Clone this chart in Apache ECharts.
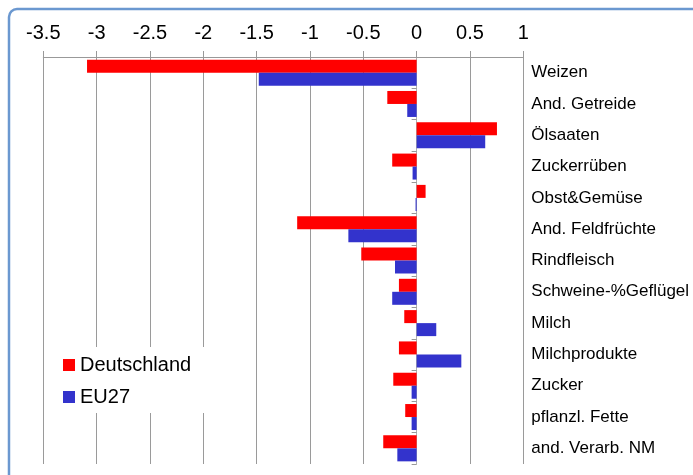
<!DOCTYPE html>
<html>
<head>
<meta charset="utf-8">
<script src="https://cdn.jsdelivr.net/npm/echarts@6/dist/echarts.min.js"></script>
<style>
html,body{margin:0;padding:0;background:#fff;}
#chart{width:693px;height:475px;}
</style>
</head>
<body>
<div id="chart"></div>
<script>
const categories = ["Weizen","And. Getreide","Ölsaaten","Zuckerrüben","Obst&Gemüse","And. Feldfrüchte","Rindfleisch","Schweine-%Geflügel","Milch","Milchprodukte","Zucker","pflanzl. Fette","and. Verarb. NM"];
const deutschland = [-3.09,-0.275,0.753,-0.229,0.084,-1.12,-0.519,-0.166,-0.116,-0.166,-0.219,-0.107,-0.313];
const eu27 = [-1.48,-0.088,0.643,-0.038,-0.01,-0.64,-0.203,-0.229,0.184,0.419,-0.047,-0.047,-0.181];
const xMin = -3.5, xMax = 1, xStep = 0.5;

const chart = echarts.init(document.getElementById('chart'));
const fontFamily = 'Liberation Sans, Arial, sans-serif';
chart.setOption({
  animation: false,
  backgroundColor: '#ffffff',
  graphic: [{
    type: 'rect', z: -10, silent: true,
    shape: {x: 9, y: 9, width: 740, height: 520, r: 8},
    style: {fill: 'none', stroke: '#6b98d0', lineWidth: 2.5}
  }, {
    type: 'rect', z: 3, silent: true,
    shape: {x: 50, y: 347, width: 160, height: 66},
    style: {fill: '#ffffff', stroke: 'none'}
  }],
  grid: {left: 43.3, right: 169.7, top: 57, bottom: 11, containLabel: false},
  legend: {
    orient: 'vertical', left: 63, top: 355, padding: 0, z: 5,
    itemWidth: 12, itemHeight: 12, itemGap: 12,
    icon: 'rect',
    textStyle: {fontSize: 20, lineHeight: 20, color: '#000', fontFamily: fontFamily},
    data: ['Deutschland', 'EU27']
  },
  xAxis: {
    type: 'value', position: 'top', min: xMin, max: xMax, interval: xStep,
    axisLine: {show: true, onZero: false, lineStyle: {color: '#999', width: 1}},
    axisTick: {show: true, length: 6, lineStyle: {color: '#999'}},
    axisLabel: {fontSize: 20, color: '#000', margin: 14, fontFamily: fontFamily},
    splitLine: {show: true, lineStyle: {color: '#9a9a9a', width: 1}}
  },
  yAxis: [{
    type: 'category', data: categories, inverse: true, position: 'right',
    axisLine: {show: false, onZero: false},
    axisTick: {show: false},
    axisLabel: {fontSize: 17, color: '#000', margin: 8, align: 'left', fontFamily: fontFamily}
  }, {
    type: 'category', data: categories, inverse: true, position: 'left',
    axisLine: {show: true, onZero: true, lineStyle: {color: '#b0b0b0'}},
    axisTick: {show: true, length: 5, lineStyle: {color: '#999'}},
    axisLabel: {show: false}
  }],
  series: [{
    name: 'Deutschland', type: 'bar', data: deutschland, yAxisIndex: 0,
    barWidth: 13, barGap: '0%',
    itemStyle: {color: '#ff0000'}
  }, {
    name: 'EU27', type: 'bar', data: eu27, yAxisIndex: 0,
    barWidth: 13, barGap: '0%',
    itemStyle: {color: '#3333cc'}
  }]
});
</script>
</body>
</html>
